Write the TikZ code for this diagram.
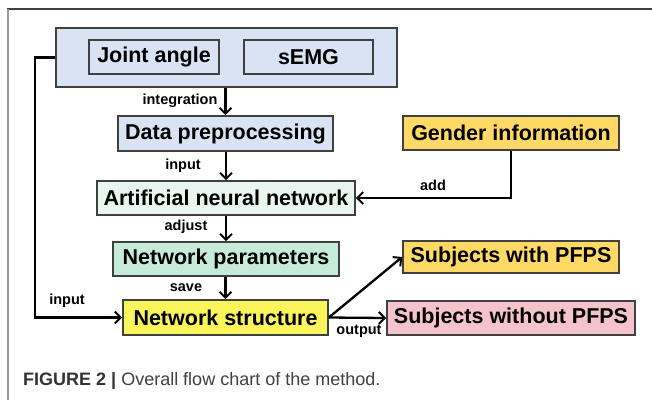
\documentclass[tikz,border=0pt]{standalone}
\usepackage{fontspec}
\setmainfont{Liberation Sans}
\usetikzlibrary{arrows.meta}
\definecolor{bluebox}{HTML}{DAE3F3}
\definecolor{annbox}{HTML}{E9F6EF}
\definecolor{parbox}{HTML}{C6EBD9}
\definecolor{structbox}{HTML}{FAF55A}
\definecolor{goldbox}{HTML}{FFD966}
\definecolor{pinkbox}{HTML}{F5C3CB}
\definecolor{bordergray}{HTML}{404040}
\tikzset{
  box/.style={draw=bordergray, line width=1.6pt, inner sep=0pt, font=\fontsize{21.5}{23}\selectfont\bfseries, text=black},
  lbl/.style={font=\fontsize{14.5}{16}\selectfont\bfseries, inner sep=0pt, text=black},
  conn/.style={line width=2.3pt, -{Straight Barb[length=6pt,width=12pt,line width=2pt]}}
}
\begin{document}
\begin{tikzpicture}[x=1pt,y=-1pt]
\useasboundingbox (0,0) rectangle (652,400);
\fill[white] (0,0) rectangle (652,400);
% frame
\draw[line width=2pt, color=bordergray] (7,9) -- (652,9);
\draw[line width=1.3pt, color=black!40] (8,9) -- (8,400);
% boxes
\node[box, fill=bluebox, minimum width=341, minimum height=59] (top) at (226.5,57.5) {};
\node[box, fill=bluebox, minimum width=130, minimum height=34] (joint) at (154,57) {Joint angle};
\node[box, fill=bluebox, minimum width=129, minimum height=34] (semg) at (308.5,57) {sEMG};
\node[box, fill=bluebox, minimum width=215, minimum height=35] (data) at (225.5,133.5) {Data preprocessing};
\node[box, fill=annbox, minimum width=258, minimum height=34] (ann) at (226,198) {Artificial neural network};
\node[box, fill=parbox, minimum width=226, minimum height=34] (par) at (226,259) {Network parameters};
\node[box, fill=structbox, minimum width=205, minimum height=35] (struct) at (225.5,317.5) {Network structure};
\node[box, fill=goldbox, minimum width=216, minimum height=34] (gender) at (511,133) {Gender information};
\node[box, fill=goldbox, minimum width=216, minimum height=32] (with) at (511,257) {Subjects with PFPS};
\node[box, fill=pinkbox, minimum width=248, minimum height=34] (without) at (511,318) {Subjects without PFPS};
% connectors
\draw[conn] (top.south -| data.north) -- (data.north);
\draw[conn] (data.south -| ann.north) -- (ann.north);
\draw[conn] (ann.south) -- (par.north);
\draw[conn] (par.south -| struct.north) -- (struct.north);
\coordinate (lt) at (35,57.5);
\coordinate (lb) at (35,317.5);
\draw[conn] (top.west) -- (lt) -- (lb) -- (struct.west);
\coordinate (gc) at (511,198);
\draw[conn] (gender.south) -- (gc) -- (ann.east);
\draw[conn] (struct.east) -- (with.west);
\draw[conn] (struct.east) -- (without.west);
% labels
\node[lbl] (l1) at (180,101) {integration};
\node[lbl] (l2) at (183,166) {input};
\node[lbl] (l3) at (186,227) {adjust};
\node[lbl] (l4) at (186,288) {save};
\node[lbl] (l5) at (67,301) {input};
\node[lbl] (l6) at (433,185) {add};
\node[lbl] (l7) at (359,331) {output};
% caption
\node[anchor=west, inner sep=0pt, font=\fontsize{18}{20}\selectfont, text=black!75] (cap) at (23,381) {\textbf{\color{black!80}FIGURE 2 |} Overall flow chart of the method.};
\end{tikzpicture}
\end{document}
